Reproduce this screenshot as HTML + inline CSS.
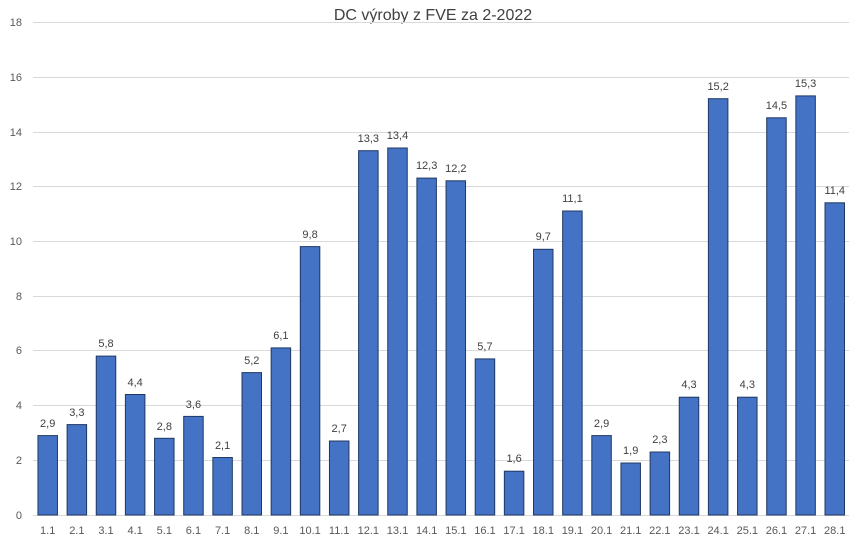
<!DOCTYPE html>
<html><head><meta charset="utf-8"><style>
body{margin:0;background:#fff}
text{font-family:"Liberation Sans",sans-serif;fill:#404040}
.v{font-size:11px;text-anchor:middle}
.x{font-size:11px;text-anchor:middle;fill:#595959}
.y{font-size:11px;text-anchor:end;fill:#595959}
rect.b{fill:#4472c4;stroke:#1f3864;stroke-width:1}
</style></head><body>
<svg width="862" height="542" xmlns="http://www.w3.org/2000/svg">
<rect width="862" height="542" fill="#fff"/>
<text x="433" y="20" style="font-size:16px;text-anchor:middle;fill:#404040">DC výroby z FVE za 2-2022</text>
<g stroke="#d9d9d9" stroke-width="1">
<line x1="33" x2="849" y1="22.5" y2="22.5"/>
<line x1="33" x2="849" y1="77.5" y2="77.5"/>
<line x1="33" x2="849" y1="132.5" y2="132.5"/>
<line x1="33" x2="849" y1="186.5" y2="186.5"/>
<line x1="33" x2="849" y1="241.5" y2="241.5"/>
<line x1="33" x2="849" y1="296.5" y2="296.5"/>
<line x1="33" x2="849" y1="350.5" y2="350.5"/>
<line x1="33" x2="849" y1="405.5" y2="405.5"/>
<line x1="33" x2="849" y1="460.5" y2="460.5"/>
<line x1="33" x2="849" y1="515.5" y2="515.5"/>
</g>
<g class="yl">
<text class="y" x="22" y="26">18</text>
<text class="y" x="22" y="81">16</text>
<text class="y" x="22" y="136">14</text>
<text class="y" x="22" y="190">12</text>
<text class="y" x="22" y="245">10</text>
<text class="y" x="22" y="300">8</text>
<text class="y" x="22" y="354">6</text>
<text class="y" x="22" y="409">4</text>
<text class="y" x="22" y="464">2</text>
<text class="y" x="22" y="519">0</text>
</g>
<g>
<rect class="b" x="37.95" y="435.6" width="19.5" height="79.4"/>
<rect class="b" x="67.1" y="424.6" width="19.5" height="90.4"/>
<rect class="b" x="96.25" y="356.1" width="19.5" height="158.9"/>
<rect class="b" x="125.4" y="394.5" width="19.5" height="120.5"/>
<rect class="b" x="154.55" y="438.3" width="19.5" height="76.7"/>
<rect class="b" x="183.7" y="416.4" width="19.5" height="98.6"/>
<rect class="b" x="212.85" y="457.5" width="19.5" height="57.5"/>
<rect class="b" x="242.0" y="372.6" width="19.5" height="142.4"/>
<rect class="b" x="271.15" y="347.9" width="19.5" height="167.1"/>
<rect class="b" x="300.3" y="246.6" width="19.5" height="268.4"/>
<rect class="b" x="329.45" y="441.0" width="19.5" height="74.0"/>
<rect class="b" x="358.6" y="150.7" width="19.5" height="364.3"/>
<rect class="b" x="387.75" y="148.0" width="19.5" height="367.0"/>
<rect class="b" x="416.9" y="178.1" width="19.5" height="336.9"/>
<rect class="b" x="446.05" y="180.8" width="19.5" height="334.2"/>
<rect class="b" x="475.2" y="358.9" width="19.5" height="156.1"/>
<rect class="b" x="504.35" y="471.2" width="19.5" height="43.8"/>
<rect class="b" x="533.5" y="249.3" width="19.5" height="265.7"/>
<rect class="b" x="562.65" y="211.0" width="19.5" height="304.0"/>
<rect class="b" x="591.8" y="435.6" width="19.5" height="79.4"/>
<rect class="b" x="620.95" y="463.0" width="19.5" height="52.0"/>
<rect class="b" x="650.1" y="452.0" width="19.5" height="63.0"/>
<rect class="b" x="679.25" y="397.2" width="19.5" height="117.8"/>
<rect class="b" x="708.4" y="98.7" width="19.5" height="416.3"/>
<rect class="b" x="737.55" y="397.2" width="19.5" height="117.8"/>
<rect class="b" x="766.7" y="117.8" width="19.5" height="397.2"/>
<rect class="b" x="795.85" y="95.9" width="19.5" height="419.1"/>
<rect class="b" x="825.0" y="202.8" width="19.5" height="312.2"/>
</g>
<g>
<text class="v" x="47.7" y="427">2,9</text>
<text class="v" x="76.85" y="416">3,3</text>
<text class="v" x="106.0" y="347">5,8</text>
<text class="v" x="135.15" y="386">4,4</text>
<text class="v" x="164.3" y="430">2,8</text>
<text class="v" x="193.45" y="408">3,6</text>
<text class="v" x="222.6" y="449">2,1</text>
<text class="v" x="251.75" y="364">5,2</text>
<text class="v" x="280.9" y="339">6,1</text>
<text class="v" x="310.05" y="238">9,8</text>
<text class="v" x="339.2" y="432">2,7</text>
<text class="v" x="368.35" y="142">13,3</text>
<text class="v" x="397.5" y="139">13,4</text>
<text class="v" x="426.65" y="169">12,3</text>
<text class="v" x="455.8" y="172">12,2</text>
<text class="v" x="484.95" y="350">5,7</text>
<text class="v" x="514.1" y="462">1,6</text>
<text class="v" x="543.25" y="240">9,7</text>
<text class="v" x="572.4" y="202">11,1</text>
<text class="v" x="601.55" y="427">2,9</text>
<text class="v" x="630.7" y="454">1,9</text>
<text class="v" x="659.85" y="443">2,3</text>
<text class="v" x="689.0" y="388">4,3</text>
<text class="v" x="718.15" y="90">15,2</text>
<text class="v" x="747.3" y="388">4,3</text>
<text class="v" x="776.45" y="109">14,5</text>
<text class="v" x="805.6" y="87">15,3</text>
<text class="v" x="834.75" y="194">11,4</text>
</g>
<g>
<text class="x" x="47.7" y="534">1.1</text>
<text class="x" x="76.85" y="534">2.1</text>
<text class="x" x="106.0" y="534">3.1</text>
<text class="x" x="135.15" y="534">4.1</text>
<text class="x" x="164.3" y="534">5.1</text>
<text class="x" x="193.45" y="534">6.1</text>
<text class="x" x="222.6" y="534">7.1</text>
<text class="x" x="251.75" y="534">8.1</text>
<text class="x" x="280.9" y="534">9.1</text>
<text class="x" x="310.05" y="534">10.1</text>
<text class="x" x="339.2" y="534">11.1</text>
<text class="x" x="368.35" y="534">12.1</text>
<text class="x" x="397.5" y="534">13.1</text>
<text class="x" x="426.65" y="534">14.1</text>
<text class="x" x="455.8" y="534">15.1</text>
<text class="x" x="484.95" y="534">16.1</text>
<text class="x" x="514.1" y="534">17.1</text>
<text class="x" x="543.25" y="534">18.1</text>
<text class="x" x="572.4" y="534">19.1</text>
<text class="x" x="601.55" y="534">20.1</text>
<text class="x" x="630.7" y="534">21.1</text>
<text class="x" x="659.85" y="534">22.1</text>
<text class="x" x="689.0" y="534">23.1</text>
<text class="x" x="718.15" y="534">24.1</text>
<text class="x" x="747.3" y="534">25.1</text>
<text class="x" x="776.45" y="534">26.1</text>
<text class="x" x="805.6" y="534">27.1</text>
<text class="x" x="834.75" y="534">28.1</text>
</g>
</svg>
</body></html>
